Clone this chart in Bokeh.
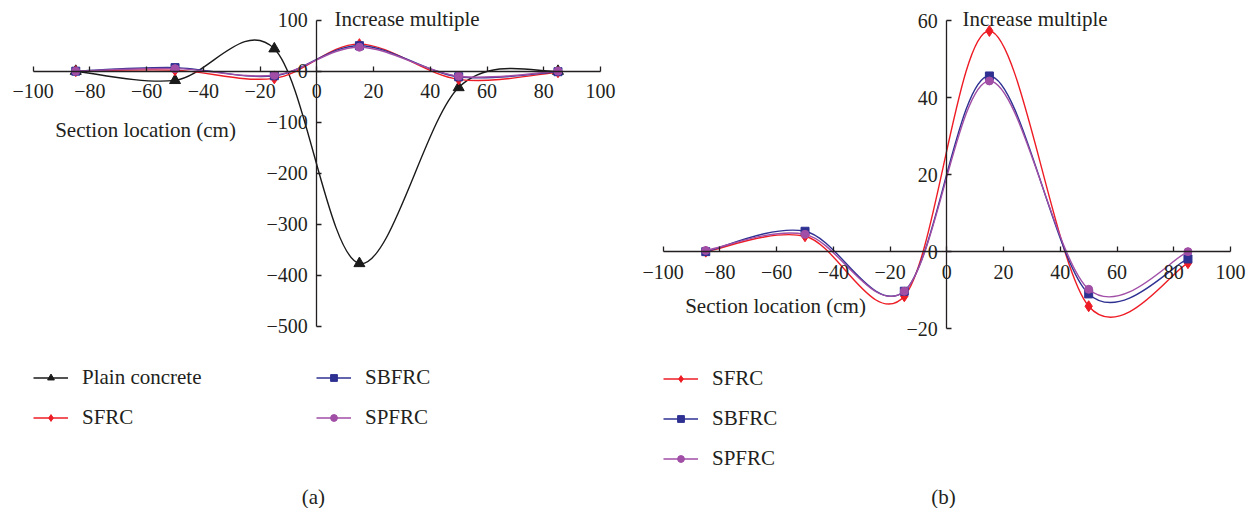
from bokeh.plotting import figure
from bokeh.layouts import row
from bokeh.models import FixedTicker, Label, Legend, LegendItem, Range1d
from bokeh.embed import file_html
from bokeh.resources import INLINE

# ---------------- data ----------------
sections = [-85, -50, -15, 15, 50, 85]

# panel (a)
a_plain = [0, -18, 44, -377, -32, 0]
a_sfrc = [0, 2, -14, 53, -16, -2]
a_sbfrc = [0, 7, -9, 50, -11, -1]
a_spfrc = [0, 5, -8, 47, -10, 0]

# panel (b)
b_sfrc = [0, 4, -11.6, 57.4, -14.2, -3]
b_sbfrc = [0, 5.3, -10.3, 45.7, -11, -1.9]
b_spfrc = [0.3, 4.5, -10.3, 44.4, -9.8, 0]

x_ticks = [-100, -80, -60, -40, -20, 0, 20, 40, 60, 80, 100]
a_y_ticks = [-500, -400, -300, -200, -100, 0, 100]
b_y_ticks = [-20, 0, 20, 40, 60]

x_title = "Section location (cm)"
y_title = "Increase multiple"

# ---------------- styling ----------------
FONT = "Liberation Serif"
FS = "20px"
FS2 = "21px"
TXT = "#231F20"
C_PLAIN = "#1A1A1A"
C_SFRC = "#EE1C25"
C_SBFRC = "#2E3192"
C_SPFRC = "#A04EA6"


def minus(v):
    return ("\u2212" + str(abs(v))) if v < 0 else str(v)


def smooth(xs, ys):
    """Bezier control points (Catmull-Rom style smoothing, like spreadsheet smoothed lines)."""
    n = len(xs)
    d = dict(x0=[], y0=[], x1=[], y1=[], cx0=[], cy0=[], cx1=[], cy1=[])
    for i in range(n - 1):
        pm = i - 1 if i > 0 else i
        pp = i + 2 if i + 2 < n else i + 1
        d["x0"].append(xs[i]); d["y0"].append(ys[i])
        d["x1"].append(xs[i + 1]); d["y1"].append(ys[i + 1])
        d["cx0"].append(xs[i] + (xs[i + 1] - xs[pm]) / 6)
        d["cy0"].append(ys[i] + (ys[i + 1] - ys[pm]) / 6)
        d["cx1"].append(xs[i + 1] - (xs[pp] - xs[i]) / 6)
        d["cy1"].append(ys[i + 1] - (ys[pp] - ys[i]) / 6)
    return d


def make_fig(width, xr, yr, y_ticks):
    p = figure(width=width, height=508, output_backend="svg", toolbar_location=None,
               x_range=Range1d(*xr), y_range=Range1d(*yr), min_border=0,
               min_border_left=0, min_border_right=0, min_border_top=0, min_border_bottom=0)
    p.outline_line_color = None
    p.grid.visible = False
    p.background_fill_color = "white"
    p.border_fill_color = "white"

    xa = p.xaxis[0]
    xa.fixed_location = 0
    xa.bounds = (x_ticks[0], x_ticks[-1])
    xa.ticker = FixedTicker(ticks=x_ticks)
    xa.major_label_overrides = {t: minus(t) for t in x_ticks}
    xa.major_tick_in = 5
    xa.major_tick_out = 0
    xa.minor_tick_line_color = None
    xa.major_label_standoff = 13

    ya = p.yaxis[0]
    ya.fixed_location = 0
    ya.bounds = (y_ticks[0], y_ticks[-1])
    ya.ticker = FixedTicker(ticks=y_ticks)
    ya.major_label_overrides = {t: minus(t) for t in y_ticks}
    ya.major_tick_in = 5
    ya.major_tick_out = 0
    ya.minor_tick_line_color = None
    ya.major_label_standoff = 9

    for ax in (xa, ya):
        ax.axis_line_color = TXT
        ax.axis_line_width = 1.3
        ax.major_tick_line_color = TXT
        ax.major_tick_line_width = 1.3
        ax.major_label_text_font = FONT
        ax.major_label_text_font_size = FS
        ax.major_label_text_color = TXT
    return p


def series(p, ys, color, marker, size):
    b = p.bezier(line_color=color, line_width=1.4, **smooth(sections, ys))
    s = p.scatter(sections, ys, marker=marker, size=size, fill_color=color, line_color=color)
    return [b, s]


def label(p, x, y, text, align):
    p.add_layout(Label(x=x, y=y, text=text, text_font=FONT, text_font_size=FS2,
                       text_color=TXT, text_align=align, text_baseline="middle"))


def legend(p, items, loc):
    lg = Legend(items=items, location=loc, orientation="vertical",
                glyph_width=35, glyph_height=17, label_height=22, label_standoff=14,
                spacing=15, padding=0, margin=0, border_line_alpha=0,
                background_fill_alpha=0, label_text_font=FONT,
                label_text_font_size=FS2, label_text_color=TXT)
    p.add_layout(lg)


# ---------------- panel (a) ----------------
pa = make_fig(626, (-111.53, 109.16), (-857.5, 138.6), a_y_ticks)
r_plain = series(pa, a_plain, C_PLAIN, "triangle", 11)
r_sfrc = series(pa, a_sfrc, C_SFRC, "diamond", 11)
r_sbfrc = series(pa, a_sbfrc, C_SBFRC, "square", 8)
r_spfrc = series(pa, a_spfrc, C_SPFRC, "circle", 8)
label(pa, -60.4, -116, x_title, "center")
label(pa, 6.2, 102.7, y_title, "left")
label(pa, -1.2, -834, "(a)", "center")
legend(pa, [LegendItem(label="Plain concrete", renderers=r_plain),
            LegendItem(label="SFRC", renderers=r_sfrc)], (33, 78))
legend(pa, [LegendItem(label="SBFRC", renderers=r_sbfrc),
            LegendItem(label="SPFRC", renderers=r_spfrc)], (316, 78))

# ---------------- panel (b) ----------------
pb = make_fig(625, (-112.94, 107.4), (-66.82, 65.33), b_y_ticks)
rb_sfrc = series(pb, b_sfrc, C_SFRC, "diamond", 11)
rb_sbfrc = series(pb, b_sbfrc, C_SBFRC, "square", 8)
rb_spfrc = series(pb, b_spfrc, C_SPFRC, "circle", 8)
label(pb, -60.4, -14.2, x_title, "center")
label(pb, 5.5, 60.4, y_title, "left")
label(pb, -1.2, -63.9, "(b)", "center")
legend(pb, [LegendItem(label="SFRC", renderers=rb_sfrc),
            LegendItem(label="SBFRC", renderers=rb_sbfrc),
            LegendItem(label="SPFRC", renderers=rb_spfrc)], (37, 37))

layout = row(pa, pb, spacing=0)
open("out.html", "w").write(file_html(layout, INLINE))
